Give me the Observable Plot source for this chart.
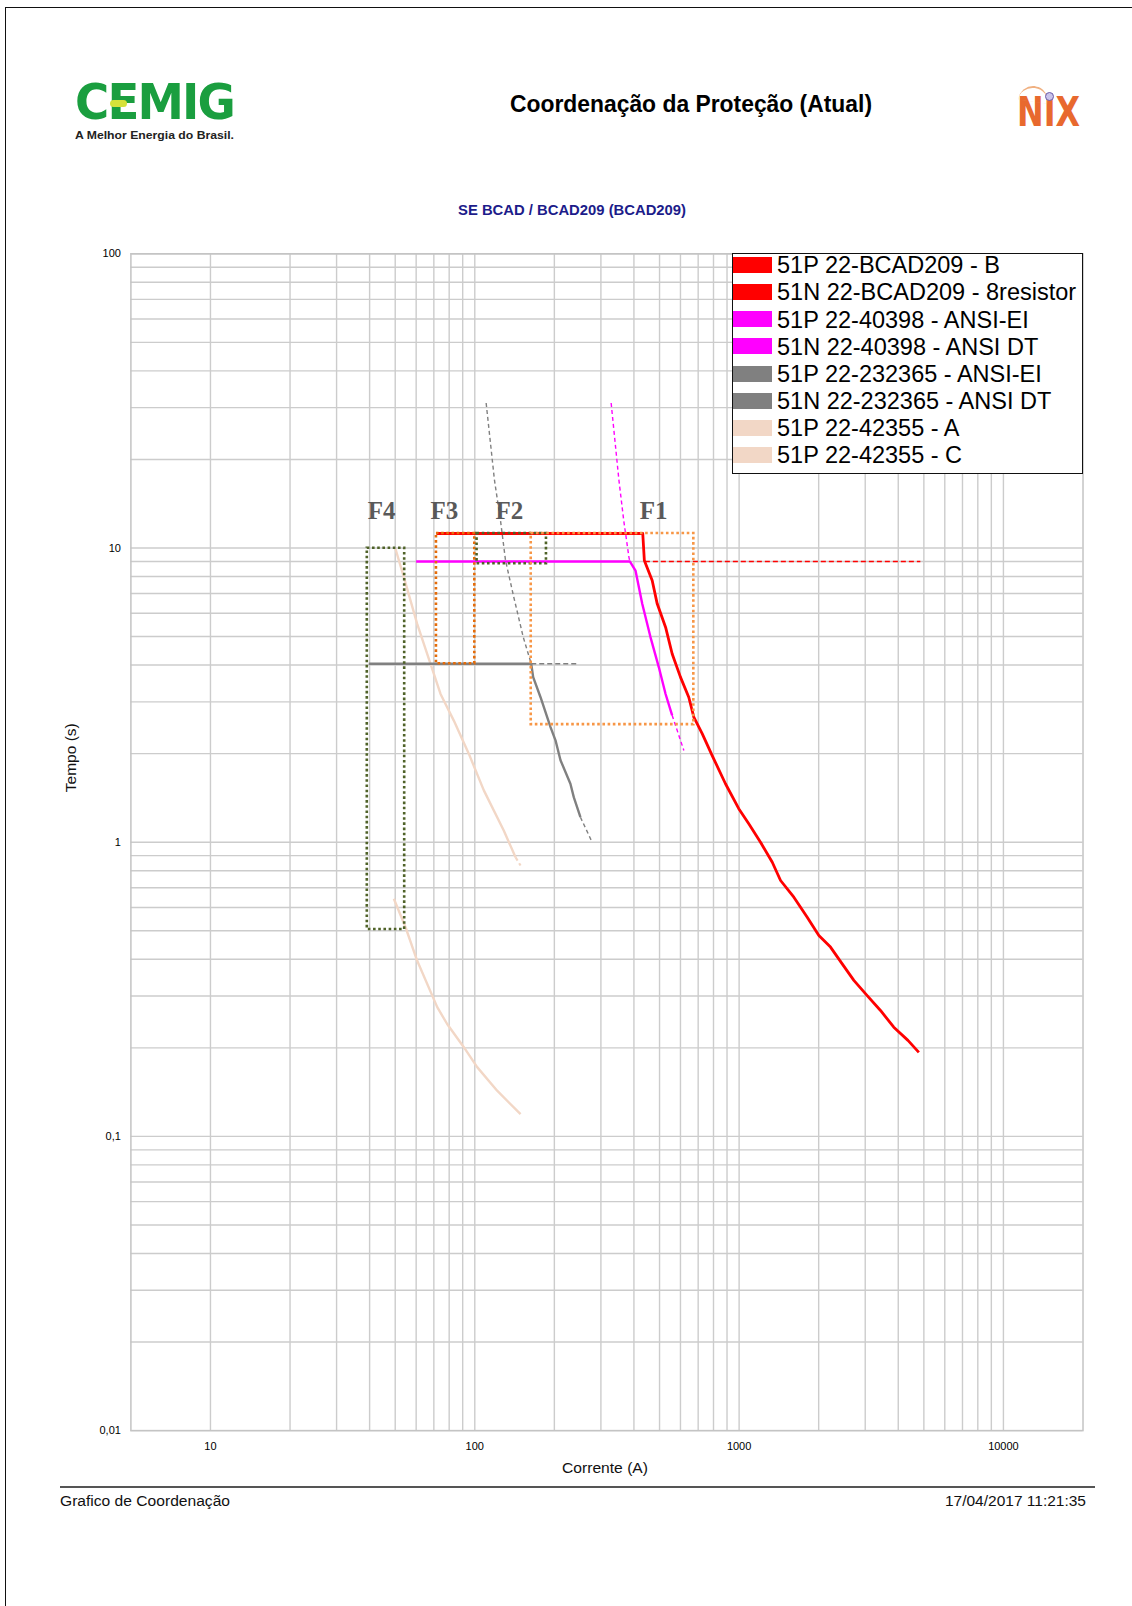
<!DOCTYPE html>
<html><head><meta charset="utf-8">
<script src="https://cdn.jsdelivr.net/npm/d3@7"></script>
<script src="https://cdn.jsdelivr.net/npm/@observablehq/plot@0.6"></script>
<style>
html,body{margin:0;padding:0;background:#fff;overflow:hidden;}
#page{position:relative;width:1132px;height:1606px;overflow:hidden;font-family:"Liberation Sans",Arial,sans-serif;background:#fff;}
.abs{position:absolute;white-space:nowrap;line-height:1;}
#plotwrap{position:absolute;left:0;top:0;}
</style></head><body><div id="page"><div id="plotwrap"></div></div>
<script>
// ---------- data ----------
const xTickValues = [10, 100, 1000, 10000];
const xTickLabels = ["10", "100", "1000", "10000"];
const yTickValues = [0.01, 0.1, 1, 10, 100];
const yTickLabels = ["0,01", "0,1", "1", "10", "100"];

// 51P 22-BCAD209 - B (red solid)  [current A, time s]
const red51P = [[71.6,11.2],[432,11.2],[438,9.07],[469,7.75],[490,6.46],[527,5.38],[558,4.37],[600,3.64],[645,3.11],[674,2.66],[725,2.34],[791,1.97],[888,1.58],[997,1.30],[1088,1.155],[1205,1.0],[1335,0.855],[1435,0.741],[1611,0.650],[1810,0.556],[2003,0.482],[2217,0.440],[2455,0.386],[2717,0.339],[3052,0.301],[3427,0.268],[3847,0.235],[4353,0.212],[4786,0.193]];
// 51N 22-BCAD209 - 8resistor (red dashed)
const red51N = [[440,9.0],[4850,9.0]];
// 51P 22-40398 - ANSI-EI (magenta)
const mag51P = [[60,9.0],[386,9.0],[405.5,8.38],[430,6.46],[462,4.98],[497,3.93],[527,3.19],[558,2.70]];
const mag51Ptop = [[328,31.1],[351,17.0],[366,12.4],[383,9.3],[386,9.0]];
const mag51Pend = [[558,2.70],[618,2.05]];
// 51P 22-232365 - ANSI-EI (gray)
const gray51P = [[39.7,4.04],[163.5,4.04],[166.3,3.64],[177.3,3.11],[193.4,2.46],[202,2.22],[211,1.90],[230,1.58],[237,1.42],[251,1.216]];
const gray51Phor = [[163.5,4.04],[244,4.04]];
const gray51Ptop = [[110.4,31.1],[118.7,17.0],[125.1,12.4],[130.7,9.07],[140.5,6.80],[152.5,4.98],[163.5,4.04]];
const gray51Pend = [[251,1.216],[278,1.0]];
// 51P 22-42355 - A and C (beige)
const beigeA = [[50.1,9.94],[53.9,7.96],[60.5,5.53],[68.0,4.04],[74.2,3.19],[83.3,2.59],[94.9,2.00],[108.2,1.50],[128.7,1.096],[142.6,0.889]];
const beigeAend = [[142.6,0.889],[149,0.833]];
const beigeC = [[49.4,0.642],[54.7,0.514],[60.5,0.396],[72.1,0.275],[78.6,0.241],[90.9,0.201],[102.1,0.172],[121.5,0.143],[149,0.119]];

// coordination boxes
const boxNames = ["F4", "F3", "F2", "F1"];
const boxI1 = [39.2, 71.6, 102, 163.5];
const boxI2 = [54.3, 100, 186.7, 674];
const boxT1 = [0.505, 4.04, 8.84, 2.51];
const boxT2 = [9.98, 11.2, 11.2, 11.2];
const boxColors = ["#4F6228", "#E46C0A", "#4F6228", "#F79646"];
const labelI = [44.4, 76.8, 135.3, 474.6];
const labelT = [12.5, 12.5, 12.5, 12.5];

// legend
const legendNames = ["51P 22-BCAD209 - B","51N 22-BCAD209 - 8resistor","51P 22-40398 - ANSI-EI","51N 22-40398 - ANSI DT","51P 22-232365 - ANSI-EI","51N 22-232365 - ANSI DT","51P 22-42355 - A","51P 22-42355 - C"];
const legendColors = ["#FF0000","#FF0000","#FF00FF","#FF00FF","#808080","#808080","#F2D7C6","#F2D7C6"];

// ---------- grid values (log decades) ----------
function logGrid(lo, hi) {
  const out = [];
  for (let e = -3; e <= 5; e++) for (let m = 1; m <= 9; m++) {
    const v = +(m * Math.pow(10, e)).toPrecision(6);
    if (v >= lo - 1e-12 && v <= hi + 1e-9) out.push(v);
  }
  return out;
}
const gridX = logGrid(10, 10000);
const gridY = logGrid(0.01, 100);

const boxes = boxNames.map((n, i) => ({n, x1: boxI1[i], x2: boxI2[i], y1: boxT1[i], y2: boxT2[i], c: boxColors[i]}));
const labels = boxNames.map((n, i) => ({n, x: labelI[i], y: labelT[i]}));

const X = d => d[0], Y = d => d[1];
const ln = (data, stroke, w, dash) => Plot.line(data, {x: X, y: Y, stroke, strokeWidth: w, strokeDasharray: dash, strokeLinejoin: "round", strokeLinecap: "butt"});

const plot = Plot.plot({
  width: 1132, height: 1480,
  marginTop: 253.3, marginBottom: 49.9, marginLeft: 130.4, marginRight: 49.5,
  style: {background: "transparent", fontFamily: "'Liberation Sans', Arial, sans-serif", fontSize: "11px", color: "#000", overflow: "visible"},
  x: {type: "log", domain: [5, 20000], ticks: xTickValues, tickFormat: d => xTickLabels[xTickValues.indexOf(d)], tickSize: 0, tickPadding: 12, label: null},
  y: {type: "log", domain: [0.01, 100], ticks: yTickValues, tickFormat: d => yTickLabels[yTickValues.indexOf(d)], tickSize: 0, tickPadding: 10, label: null},
  marks: [
    Plot.ruleX(gridX, {stroke: "#cccccc", strokeWidth: 1.4}),
    Plot.ruleY(gridY, {stroke: "#cccccc", strokeWidth: 1.4}),
    Plot.frame({stroke: "#c4c4c4", strokeWidth: 1.5}),
    ln(gray51Ptop, "#808080", 1.4, "4,3"),
    ln(gray51Phor, "#808080", 1.4, "5,3"),
    ln(gray51Pend, "#808080", 1.4, "4,3"),
    ln(mag51Ptop, "#FF00FF", 1.4, "4,3"),
    ln(mag51Pend, "#FF00FF", 1.4, "4,3"),
    ln(red51N, "#FF0000", 1.4, "5,3"),
    ln(beigeAend, "#F2D7C6", 2.2, "4,3"),
    ln(beigeA, "#F2D7C6", 2.4),
    ln(beigeC, "#F2D7C6", 2.4),
    ln(gray51P, "#808080", 2.4),
    ln(mag51P, "#FF00FF", 2.4),
    ln(red51P, "#FF0000", 2.8),
    ...boxes.map(b => Plot.rect([b], {x1: "x1", x2: "x2", y1: "y1", y2: "y2", fill: "none", stroke: b.c, strokeWidth: 2.6, strokeDasharray: "2.6,2.6"})),
    Plot.text(labels, {x: "x", y: "y", text: "n", fontFamily: "'Liberation Serif', 'Times New Roman', serif", fontWeight: "bold", fontSize: 25, fill: "#595959", lineAnchor: "bottom", textAnchor: "middle"})
  ]
});
document.getElementById("plotwrap").appendChild(plot);

// ---------- page text / decorations ----------
const page = document.getElementById("page");
function txt(s, o) {
  const d = document.createElement("div");
  d.className = "abs";
  d.textContent = s;
  d.style.fontSize = o.size + "px";
  d.style.fontWeight = o.weight || "normal";
  d.style.color = o.color || "#000";
  if (o.family) d.style.fontFamily = o.family;
  if (o.ls) d.style.letterSpacing = o.ls;
  page.appendChild(d);
  const w0 = d.getBoundingClientRect().width;
  const k = o.width ? o.width / w0 : 1;
  const w = w0 * k;
  let left = o.x;
  if (o.anchor === "center") left = o.x - w / 2;
  else if (o.anchor === "right") left = o.x - w;
  d.style.left = left + "px";
  d.style.top = (o.y - (o.vc || 0.5) * o.size) + "px";
  d.style.transformOrigin = "0 0";
  if (k !== 1) d.style.transform = `scaleX(${k})`;
  return d;
}
function box(o) {
  const d = document.createElement("div");
  d.style.position = "absolute";
  Object.assign(d.style, o);
  page.appendChild(d);
  return d;
}
// page frame (left and top)
box({left: "5px", top: "6.5px", width: "1200px", height: "1700px", borderLeft: "1.8px solid #111", borderTop: "1.8px solid #111"});

// CEMIG logo
txt("CEMIG", {x: 75, y: 103, size: 50, weight: "900", color: "#1a9e3f", family: "'DejaVu Sans', sans-serif", width: 159, ls: "-2px", vc: 0.52});
box({left: "110px", top: "100px", width: "17px", height: "7px", borderRadius: "4px", background: "#d6e23a"});
txt("A Melhor Energia do Brasil.", {x: 75, y: 135.5, size: 11.5, weight: "bold", color: "#222", width: 159});

// NIX logo
txt("NIX", {x: 1017, y: 112, size: 40, weight: "bold", color: "#E8692E", family: "'DejaVu Sans', sans-serif", width: 63});
box({left: "1019px", top: "86px", width: "30px", height: "14px", borderTop: "2.5px solid #f0b080", borderRadius: "50% 50% 0 0 / 100% 100% 0 0", transform: "rotate(8deg)"});
box({left: "1045px", top: "92px", width: "7px", height: "7px", borderRadius: "50%", border: "1.5px solid #6a5aa8", background: "#c9c3ea"});

// titles
txt("Coordenação da Proteção (Atual)", {x: 691, y: 104, size: 23, weight: "bold", color: "#000", anchor: "center", width: 362});
txt("SE BCAD / BCAD209 (BCAD209)", {x: 572, y: 209.5, size: 15.5, weight: "bold", color: "#1c1c8a", anchor: "center", width: 228});

// axis titles
txt("Corrente (A)", {x: 605.4, y: 1468, size: 15.5, color: "#111", anchor: "center", width: 86});
const yl = txt("Tempo (s)", {x: 0, y: 0, size: 15.5, color: "#111", width: 71.6});
{
  const r = yl.getBoundingClientRect();
  const w = r.width, h = 15.5;
  yl.style.left = (71.7 - w / 2) + "px";
  yl.style.top = (757.5 - h / 2) + "px";
  yl.style.transformOrigin = "center center";
  yl.style.transform = `translate(0,0) rotate(-90deg)`;
}

// footer
box({left: "60px", top: "1485.5px", width: "1035px", height: "2.4px", background: "#555"});
txt("Grafico de Coordenação", {x: 60, y: 1501, size: 15.5, color: "#111", width: 170});
txt("17/04/2017 11:21:35", {x: 1086, y: 1501, size: 15.5, color: "#111", anchor: "right"});

// legend
const lg = box({left: "732px", top: "253px", width: "351px", height: "221px", border: "1.5px solid #111", background: "#fff", boxSizing: "border-box"});
legendNames.forEach((n, i) => {
  const cy = 265 + i * 27.14;
  box({left: "733px", top: (cy - 8) + "px", width: "39px", height: "16px", background: legendColors[i]});
  txt(n, {x: 777, y: cy + 1, size: 23.5, color: "#000"});
});
</script></body></html>
